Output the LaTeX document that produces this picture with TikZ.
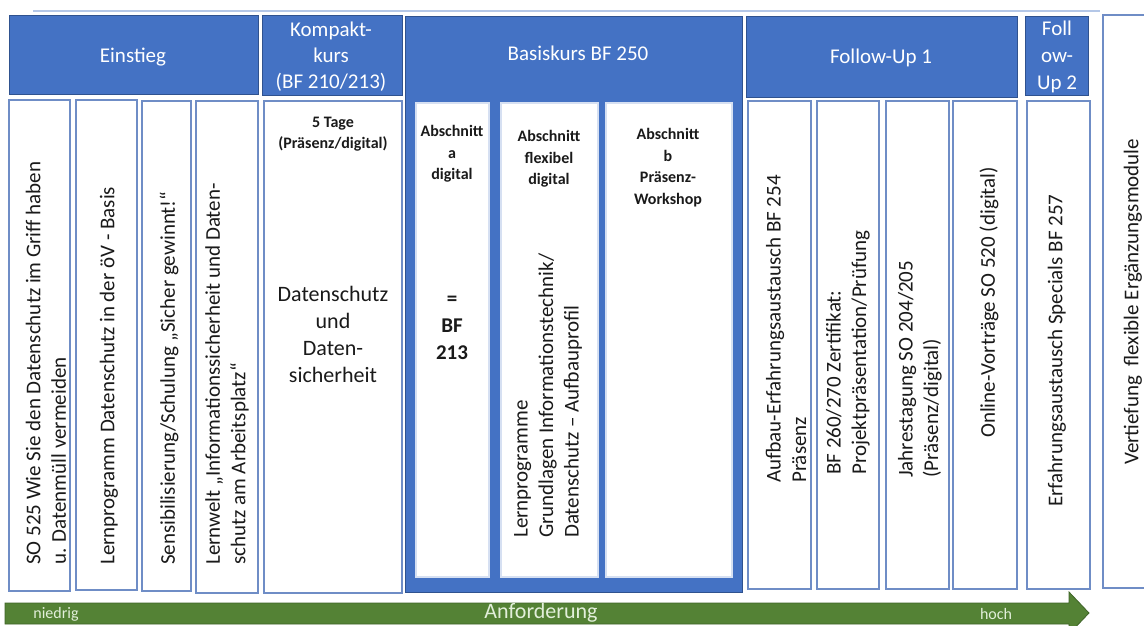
\documentclass[tikz,border=0pt]{standalone}
\usepackage{fontspec}
\setmainfont{Carlito}
\usetikzlibrary{fit}
\definecolor{hblue}{HTML}{4472C4}
\definecolor{hborder}{HTML}{2F528F}
\definecolor{bborder}{HTML}{6F8DC6}
\definecolor{iborder}{HTML}{D6E0F2}
\definecolor{agreen}{HTML}{548235}
\definecolor{agreenb}{HTML}{3F6428}
\definecolor{atext}{HTML}{E2EFDA}
\definecolor{topline}{HTML}{B4C7E7}
\definecolor{txt}{HTML}{1A1A1A}
\begin{document}
\begin{tikzpicture}[x=1pt,y=-1pt,
  hdr/.style={draw=hborder, fill=hblue, line width=1pt, inner sep=0pt},
  cbox/.style={draw=bborder, fill=white, line width=1.5pt, inner sep=0pt},
  ibox/.style={draw=iborder, fill=white, line width=1.2pt, inner sep=0pt},
  htext/.style={text=white, font=\fontsize{21}{26}\selectfont, align=center, inner sep=0pt},
  vtext/.style={rotate=90, anchor=west, align=left, inner sep=0pt, font=\fontsize{21}{25.5}\selectfont, text=txt},
  btext/.style={align=center, inner sep=0pt, text=txt, font=\bfseries\fontsize{16}{21.5}\selectfont},
  ktext/.style={align=center, inner sep=0pt, text=txt, font=\fontsize{22}{27}\selectfont},
  arrtext/.style={inner sep=0pt, text=atext},
]
\clip (0,0) rectangle (1144,626);
\fill[white] (0,0) rectangle (1144,626);

% top line
\coordinate (tl1) at (33,11);
\coordinate (tl2) at (1100,11);
\draw[topline, line width=1.5pt] (tl1) -- (tl2);

% headers
\node[hdr, fit={(9,16) (258,95)}] (hE) {};
\node[htext] (hEt) at (133,57) {Einstieg};
\node[hdr, fit={(262,16) (402,96)}] (hK) {};
\node[htext] (hKt) at (331,57) {Kompakt-\\kurs\\(BF 210/213)};
\node[hdr, fit={(405,17) (742,592)}] (hB) {};
\node[htext] (hBt) at (578,53) {Basiskurs BF 250};
\node[hdr, fit={(746,17) (1017,98)}] (hF1) {};
\node[htext] (hF1t) at (881,58) {Follow-Up 1};
\node[hdr, fit={(1025,17) (1088,96)}] (hF2) {};
\node[htext, font=\fontsize{21}{27}\selectfont] (hF2t) at (1057,57) {Foll\\ow-\\Up 2};

% Einstieg boxes
\node[cbox, fit={(9,100) (70,591)}] (e1) {};
\node[cbox, fit={(76,100) (137,590)}] (e2) {};
\node[cbox, fit={(142,101) (191,591)}] (e3) {};
\node[cbox, fit={(196,101) (258,593)}] (e4) {};
\node[vtext] (e1t) at (46,565) {SO 525 Wie Sie den Datenschutz im Griff haben\\u. Datenmüll vermeiden};
\node[vtext] (e2t) at (109,565) {Lernprogramm Datenschutz in der öV - Basis};
\node[vtext] (e3t) at (169,565) {Sensibilisierung/Schulung „Sicher gewinnt!“};
\node[vtext] (e4t) at (227,565) {Lernwelt „Informationssicherheit und Daten-\\schutz am Arbeitsplatz“};

% Kompaktkurs box
\node[cbox, fit={(264,101) (402,593)}] (k) {};
\node[btext] (kt1) at (333,134) {5 Tage\\(Präsenz/digital)};
\node[ktext] (kt2) at (333,334) {Datenschutz\\und\\Daten-\\sicherheit};

% Basiskurs inner boxes
\node[ibox, fit={(416,103) (489,577)}] (ba) {};
\node[ibox, fit={(501,103) (598,577)}] (bf) {};
\node[ibox, fit={(606,103) (732,577)}] (bb) {};
\node[btext] (bat) at (452,154) {Abschnitt\\a\\digital};
\node[btext, font=\bfseries\fontsize{21}{27}\selectfont] (bat2) at (452,328) {=\\BF\\213};
\node[btext] (bft) at (549,159) {Abschnitt\\flexibel\\digital};
\node[vtext] (bft2) at (548,538) {Lernprogramme\\Grundlagen Informationstechnik/\\Datenschutz – Aufbauprofil};
\node[btext] (bbt) at (668,167.5) {Abschnitt\\b\\Präsenz-\\Workshop};

% Follow-Up boxes
\node[cbox, fit={(748,101) (811,589)}] (f1) {};
\node[cbox, fit={(817,101) (879,589)}] (f2) {};
\node[cbox, fit={(886,101) (949,589)}] (f3) {};
\node[cbox, fit={(953,101) (1017,589)}] (f4) {};
\node[cbox, fit={(1027,101) (1090,589)}] (g) {};
\node[cbox, fit={(1103,15) (1170,588)}] (v) {};
\node[vtext] (f1t) at (786,483) {Aufbau-Erfahrungsaustausch BF 254\\Präsenz};
\node[vtext] (f2t) at (848,475) {BF 260/270 Zertifikat:\\Projektpräsentation/Prüfung};
\node[vtext] (f3t) at (920,478) {Jahrestagung SO 204/205\\(Präsenz/digital)};
\node[vtext] (f4t) at (989,438) {Online-Vorträge SO 520 (digital)};
\node[vtext] (gt) at (1057,507) {Erfahrungsaustausch Specials BF 257};
\node[vtext] (vt) at (1133,465) {Vertiefung\ \ flexible Ergänzungsmodule};

% arrow
\fill[agreen, draw=agreenb, line width=0.8pt] (5,603) -- (1069,603) -- (1069,592) -- (1089,613) -- (1069,634) -- (1069,624) -- (5,624) -- cycle;
\node[arrtext, font=\fontsize{16}{18}\selectfont] (lo) at (56,614) {niedrig};
\node[arrtext, font=\fontsize{22}{24}\selectfont] (mid) at (541,613) {Anforderung};
\node[arrtext, font=\fontsize{16}{18}\selectfont] (hi) at (996,614) {hoch};
\end{tikzpicture}
\end{document}
